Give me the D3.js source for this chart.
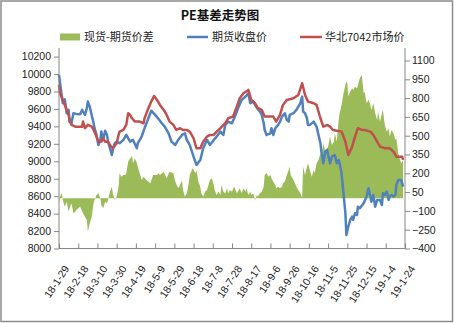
<!DOCTYPE html>
<html><head><meta charset="utf-8">
<script src="https://cdn.jsdelivr.net/npm/d3@7/dist/d3.min.js"></script>
<style>body{margin:0;background:#fff}svg{display:block}</style>
</head><body><svg id="c" width="454" height="323"></svg>
<script>
const chartTitle = "PE基差走势图";
const seriesNames = ["现货-期货价差", "期货收盘价", "华北7042市场价"];
const xTickLabels = ["18-1-29","18-2-18","18-3-10","18-3-30","18-4-19","18-5-9","18-5-29","18-6-18","18-7-8","18-7-28","18-8-17","18-9-6","18-9-26","18-10-16","18-11-5","18-11-25","18-12-15","19-1-4","19-1-24"];
const leftTicks = [8000,8200,8400,8600,8800,9000,9200,9400,9600,9800,10000,10200];
const rightTicks = [-400,-250,-100,50,200,350,500,650,800,950,1100];

// 期货收盘价 (left axis)
const futDates = ["18-1-29","18-2-1","18-2-2","18-2-4","18-2-6","18-2-8","18-2-9","18-2-11","18-2-13","18-2-16","18-2-20","18-2-22","18-2-23","18-2-25","18-2-27","18-2-28","18-3-2","18-3-4","18-3-6","18-3-7","18-3-9","18-3-11","18-3-13","18-3-14","18-3-16","18-3-18","18-3-20","18-3-21","18-3-23","18-3-25","18-3-26","18-3-28","18-3-30","18-4-2","18-4-6","18-4-9","18-4-13","18-4-16","18-4-20","18-4-21","18-4-25","18-4-28","18-5-2","18-5-5","18-5-9","18-5-12","18-5-16","18-5-19","18-5-23","18-5-26","18-5-30","18-6-2","18-6-6","18-6-9","18-6-11","18-6-14","18-6-18","18-6-21","18-6-25","18-6-28","18-7-2","18-7-5","18-7-9","18-7-12","18-7-16","18-7-19","18-7-21","18-7-24","18-7-28","18-7-31","18-8-4","18-8-7","18-8-11","18-8-14","18-8-16","18-8-19","18-8-23","18-8-26","18-8-28","18-8-30","18-8-31","18-9-2","18-9-6","18-9-7","18-9-9","18-9-11","18-9-14","18-9-16","18-9-18","18-9-21","18-9-23","18-9-25","18-9-26","18-9-30","18-10-3","18-10-7","18-10-9","18-10-10","18-10-12","18-10-14","18-10-15","18-10-17","18-10-21","18-10-24","18-10-26","18-10-28","18-10-29","18-10-31","18-11-2","18-11-4","18-11-5","18-11-7","18-11-9","18-11-12","18-11-14","18-11-16","18-11-17","18-11-19","18-11-21","18-11-23","18-11-24","18-11-26","18-11-28","18-11-30","18-12-1","18-12-3","18-12-5","18-12-6","18-12-8","18-12-12","18-12-15","18-12-17","18-12-19","18-12-20","18-12-22","18-12-24","18-12-26","18-12-29","18-12-31","19-1-1","19-1-3","19-1-5","19-1-7","19-1-8","19-1-10","19-1-12","19-1-14","19-1-15","19-1-17","19-1-19","19-1-20","19-1-22"];
const futValues = [9990,9741,9665,9711,9551,9589,9454,9436,9551,9543,9540,9589,9570,9531,9608,9684,9626,9531,9436,9379,9302,9187,9245,9340,9245,9351,9302,9225,9149,9072,9130,9207,9225,9207,9245,9302,9225,9245,9149,9207,9283,9379,9493,9580,9531,9493,9436,9397,9321,9225,9187,9245,9302,9321,9245,9187,9053,8958,9015,9149,9245,9187,9245,9283,9340,9302,9417,9455,9436,9512,9626,9703,9741,9780,9665,9684,9608,9570,9531,9436,9359,9302,9321,9379,9302,9379,9417,9455,9512,9551,9474,9455,9531,9551,9589,9665,9741,9570,9551,9493,9417,9417,9455,9397,9302,9207,9110,8977,9110,9130,9072,8977,9053,9072,8977,9015,8977,8862,8633,8404,8155,8250,8327,8365,8327,8404,8384,8479,8461,8518,8594,8690,8594,8537,8614,8479,8556,8556,8499,8633,8614,8652,8556,8594,8614,8594,8614,8728,8786,8786,8786,8709];

// 华北7042市场价 (left axis)
const spotDates = ["18-1-29","18-1-30","18-2-2","18-2-6","18-2-8","18-2-9","18-2-11","18-2-15","18-2-22","18-2-23","18-2-25","18-2-28","18-3-4","18-3-6","18-3-9","18-3-11","18-3-14","18-3-16","18-3-18","18-3-21","18-3-23","18-3-26","18-3-30","18-4-1","18-4-2","18-4-6","18-4-9","18-4-11","18-4-13","18-4-15","18-4-18","18-4-23","18-4-27","18-4-28","18-5-2","18-5-5","18-5-8","18-5-11","18-5-14","18-5-18","18-5-21","18-5-24","18-5-28","18-5-31","18-6-4","18-6-7","18-6-11","18-6-14","18-6-18","18-6-21","18-6-25","18-6-28","18-7-2","18-7-5","18-7-9","18-7-12","18-7-16","18-7-21","18-7-24","18-7-29","18-8-2","18-8-5","18-8-9","18-8-14","18-8-17","18-8-21","18-8-24","18-8-28","18-8-31","18-9-6","18-9-9","18-9-12","18-9-16","18-9-19","18-9-23","18-9-30","18-10-5","18-10-9","18-10-12","18-10-15","18-10-21","18-10-24","18-10-28","18-10-31","18-11-4","18-11-7","18-11-10","18-11-19","18-11-23","18-11-26","18-11-30","18-12-3","18-12-6","18-12-10","18-12-13","18-12-19","18-12-22","18-12-26","18-12-29","19-1-3","19-1-8","19-1-12","19-1-15","19-1-21","19-1-22"];
const spotValues = [9880,9780,9703,9589,9531,9474,9417,9397,9397,9455,9379,9417,9397,9359,9283,9225,9225,9264,9225,9225,9187,9149,9207,9302,9340,9359,9417,9551,9531,9493,9455,9455,9436,9493,9608,9684,9749,9703,9646,9589,9531,9455,9417,9359,9379,9359,9359,9340,9264,9149,9149,9225,9283,9302,9302,9340,9379,9436,9493,9512,9626,9722,9780,9818,9703,9665,9608,9589,9512,9512,9512,9455,9531,9646,9703,9722,9760,9894,9760,9684,9665,9646,9493,9397,9417,9397,9359,9340,9225,9072,9168,9283,9379,9359,9359,9340,9302,9225,9168,9149,9149,9110,9053,9053,9015];

// 现货-期货价差 (right axis)
const basisDates = ["18-1-29","18-1-30","18-2-1","18-2-2","18-2-4","18-2-6","18-2-8","18-2-9","18-2-11","18-2-13","18-2-15","18-2-16","18-2-20","18-2-23","18-2-25","18-2-27","18-2-28","18-3-2","18-3-4","18-3-6","18-3-7","18-3-9","18-3-11","18-3-13","18-3-14","18-3-16","18-3-18","18-3-20","18-3-21","18-3-23","18-3-25","18-3-26","18-3-28","18-3-30","18-4-1","18-4-2","18-4-4","18-4-6","18-4-8","18-4-9","18-4-11","18-4-13","18-4-15","18-4-16","18-4-18","18-4-20","18-4-21","18-4-23","18-4-25","18-4-27","18-4-30","18-5-4","18-5-7","18-5-11","18-5-12","18-5-14","18-5-18","18-5-21","18-5-24","18-5-28","18-5-30","18-6-2","18-6-4","18-6-6","18-6-7","18-6-9","18-6-11","18-6-13","18-6-14","18-6-17","18-6-20","18-6-21","18-6-23","18-6-25","18-6-26","18-6-28","18-6-30","18-7-2","18-7-3","18-7-5","18-7-7","18-7-9","18-7-10","18-7-12","18-7-14","18-7-16","18-7-17","18-7-19","18-7-21","18-7-23","18-7-24","18-7-26","18-7-28","18-7-30","18-7-31","18-8-2","18-8-4","18-8-5","18-8-7","18-8-9","18-8-11","18-8-12","18-8-14","18-8-16","18-8-17","18-8-19","18-8-21","18-8-23","18-8-24","18-8-26","18-8-28","18-8-30","18-8-31","18-9-2","18-9-4","18-9-6","18-9-7","18-9-9","18-9-11","18-9-12","18-9-14","18-9-16","18-9-18","18-9-19","18-9-21","18-9-23","18-9-25","18-9-26","18-9-27","18-9-30","18-10-3","18-10-7","18-10-9","18-10-10","18-10-12","18-10-14","18-10-15","18-10-17","18-10-19","18-10-21","18-10-22","18-10-24","18-10-26","18-10-28","18-10-29","18-10-31","18-11-2","18-11-4","18-11-5","18-11-7","18-11-9","18-11-11","18-11-12","18-11-14","18-11-16","18-11-17","18-11-19","18-11-21","18-11-23","18-11-24","18-11-25","18-11-26","18-11-28","18-11-30","18-12-1","18-12-3","18-12-5","18-12-6","18-12-8","18-12-10","18-12-12","18-12-13","18-12-15","18-12-17","18-12-19","18-12-20","18-12-22","18-12-24","18-12-26","18-12-27","18-12-29","18-12-31","19-1-1","19-1-3","19-1-5","19-1-7","19-1-8","19-1-10","19-1-12","19-1-14","19-1-15","19-1-17","19-1-19","19-1-20","19-1-22"];
const basisValues = [-39,14,40,-13,-66,-26,-106,-79,-39,-119,-106,-93,-66,-119,-146,-172,-266,-199,-146,-39,-13,27,40,0,-53,-79,-26,-39,-13,53,93,40,-13,14,93,200,173,187,187,200,293,320,338,280,320,280,253,200,147,173,147,120,187,187,200,187,213,160,213,200,133,80,107,147,67,14,40,120,187,240,200,227,133,93,40,14,53,67,93,147,160,107,67,27,53,27,107,53,40,80,40,67,53,93,80,40,67,80,40,80,53,80,27,53,27,40,-13,27,14,40,53,93,187,200,173,187,160,133,107,80,93,80,93,120,133,187,227,253,187,147,93,40,5,253,187,253,280,227,173,227,200,280,307,360,333,440,373,400,413,493,426,453,520,453,626,679,745,839,905,931,918,812,852,879,865,891,879,905,958,985,839,852,759,785,745,705,759,679,626,692,612,679,705,586,532,559,493,546,520,466,479,360,307,280,307];

const parse = d3.timeParse("%y-%m-%d");
const svg = d3.select("#c");
const W = 454, H = 323;
const pL = 59, pR = 405, pT = 48, pB = 248.5;
const FONT = "'Liberation Sans', Arial, sans-serif";
const CJK = "'Noto Sans CJK SC', sans-serif";
const AX = "#868686";

svg.append("rect").attr("x", 1).attr("y", 1).attr("width", W - 2.5).attr("height", H - 2.5)
  .attr("fill", "#fff").attr("stroke", "#8c8c8c").attr("stroke-width", 1.5);

const x = d3.scaleTime().domain([parse(xTickLabels[0]), parse(xTickLabels[xTickLabels.length - 1])]).range([pL, pR]);
const yL = d3.scaleLinear().domain([8000, 10200]).range([pB, 56.6]);
const yR = d3.scaleLinear().domain([-400, 1100]).range([pB, 60.5]);

const basis = basisDates.map((d, i) => ({ d: parse(d), v: basisValues[i] }));
svg.append("path").datum(basis)
  .attr("fill", "#9BBB59")
  .attr("d", d3.area().x(p => x(p.d)).y0(yR(0)).y1(p => yR(p.v)));

const lineL = d3.line().x(p => x(p.d)).y(p => yL(p.v));
const fut = futDates.map((d, i) => ({ d: parse(d), v: futValues[i] }));
const spot = spotDates.map((d, i) => ({ d: parse(d), v: spotValues[i] }));
svg.append("path").datum(fut).attr("fill", "none").attr("stroke", "#4F81BD")
  .attr("stroke-width", 2.5).attr("stroke-linejoin", "round").attr("d", lineL);
svg.append("path").datum(spot).attr("fill", "none").attr("stroke", "#C0504D")
  .attr("stroke-width", 2.5).attr("stroke-linejoin", "round").attr("d", lineL);

const gL = svg.append("g").attr("transform", `translate(${pL},0)`)
  .call(d3.axisLeft(yL).tickValues(leftTicks).tickSize(5).tickPadding(3).tickFormat(d3.format("d")));
const gR = svg.append("g").attr("transform", `translate(${pR},0)`)
  .call(d3.axisRight(yR).tickValues(rightTicks).tickSize(5).tickPadding(2).tickFormat(d3.format("d")));
const gX = svg.append("g").attr("transform", `translate(0,${pB})`)
  .call(d3.axisBottom(x).tickValues(xTickLabels.map(parse)).tickSize(-5).tickFormat((d, i) => xTickLabels[i]));
[gL, gR, gX].forEach(g => {
  g.select(".domain").remove();
  g.selectAll(".tick line").attr("stroke", AX);
  g.selectAll("text").attr("fill", "#222").attr("font-family", FONT).attr("font-size", 10.5);
});
svg.append("line").attr("x1", pL).attr("x2", pL).attr("y1", pT).attr("y2", pB).attr("stroke", AX);
svg.append("line").attr("x1", pR).attr("x2", pR).attr("y1", pT).attr("y2", pB).attr("stroke", AX);
svg.append("line").attr("x1", pL).attr("x2", pR).attr("y1", pB).attr("y2", pB).attr("stroke", AX);

gX.selectAll(".tick text")
  .attr("text-anchor", "end")
  .attr("dy", "0.35em")
  .attr("transform", "translate(7,18) rotate(-57)")
  .attr("y", 0).attr("x", 0);

svg.append("text").attr("x", 220).attr("y", 20).attr("text-anchor", "middle")
  .attr("font-family", CJK).attr("font-weight", "bold").attr("font-size", 12.5)
  .attr("fill", "#111").text(chartTitle);

const lg = svg.append("g").attr("font-family", CJK).attr("font-size", 11).attr("fill", "#222");
lg.append("rect").attr("x", 60).attr("y", 33.5).attr("width", 20).attr("height", 7).attr("fill", "#9BBB59");
lg.append("text").attr("x", 84).attr("y", 41).text(seriesNames[0]);
lg.append("line").attr("x1", 187).attr("x2", 208).attr("y1", 37).attr("y2", 37).attr("stroke", "#4F81BD").attr("stroke-width", 2.5);
lg.append("text").attr("x", 212).attr("y", 41).text(seriesNames[1]);
lg.append("line").attr("x1", 300).attr("x2", 322).attr("y1", 37).attr("y2", 37).attr("stroke", "#C0504D").attr("stroke-width", 2.5);
lg.append("text").attr("x", 325).attr("y", 41).text(seriesNames[2]);
</script></body></html>
